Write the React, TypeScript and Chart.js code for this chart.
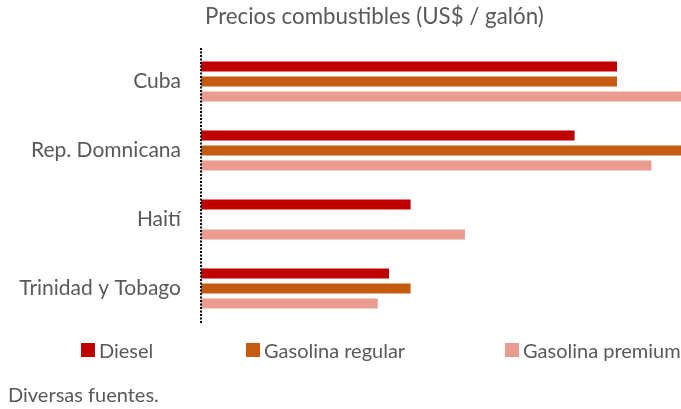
import React, { useEffect, useRef } from "react";
import { Chart, registerables } from "chart.js";

Chart.register(...registerables);

const titleText = "Precios combustibles (US$ / galón)";
const sourceText = "Diversas fuentes.";
const categories = ["Cuba", "Rep. Domnicana", "Haití", "Trinidad y Tobago"];
const seriesNames = ["Diesel", "Gasolina regular", "Gasolina premium"];
const diesel = [5.2, 4.67, 2.62, 2.35];
const gasolinaRegular = [5.2, 6.0, null, 2.62];
const gasolinaPremium = [6.0, 5.63, 3.3, 2.21];
const seriesColors = ["#C00000", "#C55A11", "#EA9C91"];

const FONT = "Lato, 'DejaVu Sans', sans-serif";
const TEXT = "#595959";

const dottedAxis = {
  id: "dottedAxis",
  afterDraw(chart: any) {
    const { ctx, chartArea } = chart;
    const x = Math.round(chartArea.left);
    ctx.save();
    ctx.strokeStyle = "#000000";
    ctx.lineWidth = 2;
    ctx.setLineDash([2, 1.5]);
    ctx.beginPath();
    ctx.moveTo(x, chartArea.top + 1);
    ctx.lineTo(x, chartArea.bottom);
    ctx.stroke();
    ctx.restore();
  },
};

export default function App() {
  const ref = useRef<HTMLCanvasElement | null>(null);

  useEffect(() => {
    if (!ref.current) return;
    const data = [diesel, gasolinaRegular, gasolinaPremium];
    const chart = new Chart(ref.current, {
      type: "bar",
      data: {
        labels: categories,
        datasets: seriesNames.map((name, i) => ({
          label: name,
          data: data[i],
          backgroundColor: seriesColors[i],
          borderWidth: 0,
          categoryPercentage: 0.652,
          barPercentage: 0.667,
        })),
      },
      options: {
        indexAxis: "y",
        animation: false,
        responsive: true,
        maintainAspectRatio: false,
        layout: { padding: { top: 47, bottom: 86, left: 0, right: 0 } },
        plugins: {
          legend: { display: false },
          title: { display: false },
          tooltip: { enabled: false },
        },
        scales: {
          x: { display: false, min: 0, max: 6 },
          y: {
            afterFit: (scale: any) => {
              scale.width = 201;
            },
            grid: { display: false, drawTicks: false },
            border: { display: false },
            ticks: {
              padding: 20,
              color: TEXT,
              font: { family: FONT, size: 21 },
            },
          },
        },
      },
      plugins: [dottedAxis],
    });
    return () => chart.destroy();
  }, []);

  const legendPos = [81, 246, 505];

  return (
    <div style={{ position: "absolute", left: 0, top: 0, width: 681, height: 409, fontFamily: FONT, color: TEXT, background: "#fff" }}>
      <div style={{ position: "absolute", left: 0, top: 0, width: 681, height: 409 }}>
        <canvas ref={ref} />
      </div>
      <div style={{ position: "absolute", left: 205, top: 3, fontSize: 22.3, lineHeight: "26px", whiteSpace: "nowrap" }}>
        {titleText}
      </div>
      {seriesNames.map((name, i) => (
        <div key={name} style={{ position: "absolute", left: legendPos[i], top: 338, height: 24, display: "flex", alignItems: "center", whiteSpace: "nowrap", fontSize: 20, lineHeight: "24px" }}>
          <span style={{ display: "inline-block", width: 14, height: 14, background: seriesColors[i], marginRight: 4 }} />
          <span>{name}</span>
        </div>
      ))}
      <div style={{ position: "absolute", left: 8, top: 382, fontSize: 20, lineHeight: "24px", whiteSpace: "nowrap" }}>
        {sourceText}
      </div>
    </div>
  );
}
